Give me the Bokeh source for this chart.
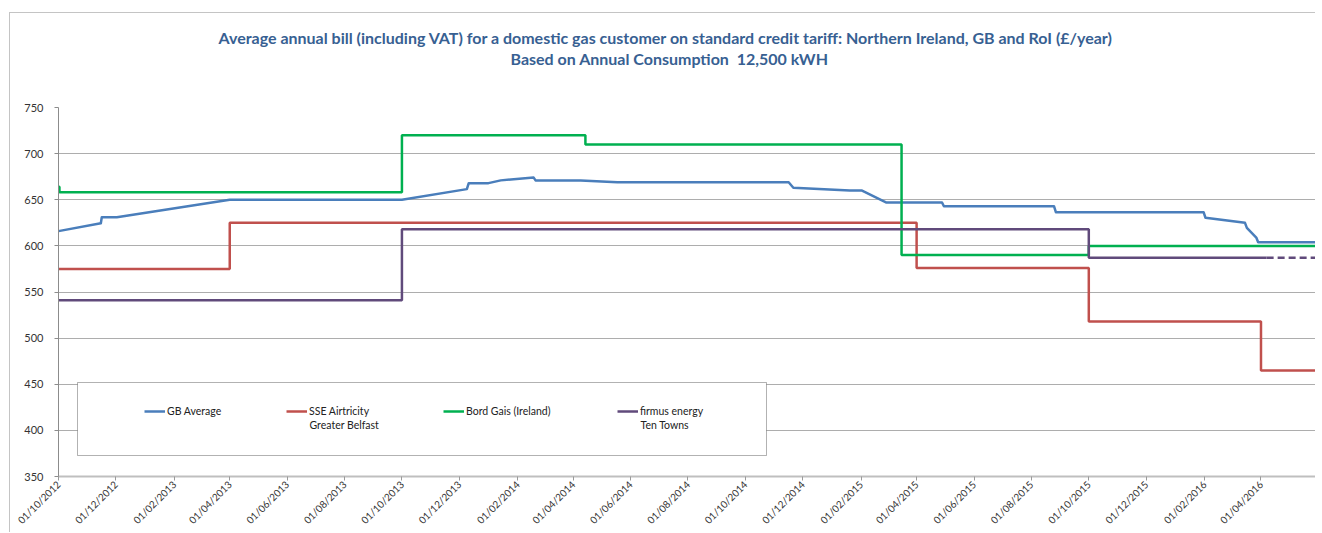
from datetime import datetime
import pandas as pd
from bokeh.plotting import figure
from bokeh.models import (Range1d, FixedTicker, DatetimeTickFormatter, Legend,
                          LegendItem, Label, BoxAnnotation, Title)
from bokeh.embed import file_html
from bokeh.resources import INLINE

# ---------------- data ----------------
title_line1 = ("Average annual bill (including VAT) for a domestic gas customer on standard "
               "credit tariff: Northern Ireland, GB and RoI (£/year)")
title_line2 = "Based on Annual Consumption\u00a0 12,500 kWH"

x_tick_dates = ["2012-10-01", "2012-12-01", "2013-02-01", "2013-04-01", "2013-06-01",
                "2013-08-01", "2013-10-01", "2013-12-01", "2014-02-01", "2014-04-01",
                "2014-06-01", "2014-08-01", "2014-10-01", "2014-12-01", "2015-02-01",
                "2015-04-01", "2015-06-01", "2015-08-01", "2015-10-01", "2015-12-01",
                "2016-02-01", "2016-04-01"]
y_ticks = [350, 400, 450, 500, 550, 600, 650, 700, 750]

series_names = ["GB Average", "SSE Airtricity", "Bord Gais (Ireland)", "firmus energy"]
series_second_lines = ["", "Greater Belfast", "", "Ten Towns"]

gb_dates = ["2012-10-01", "2012-11-15", "2012-11-16", "2012-12-02", "2013-04-01",
            "2013-10-01", "2013-12-09", "2013-12-11", "2014-01-01", "2014-01-14",
            "2014-02-18", "2014-02-20", "2014-04-09", "2014-05-18", "2014-11-16",
            "2014-11-21", "2015-01-20", "2015-02-02", "2015-02-28", "2015-04-28",
            "2015-04-30", "2015-08-25", "2015-08-27", "2016-01-31", "2016-02-02",
            "2016-03-15", "2016-03-17", "2016-03-27", "2016-03-29", "2016-05-31"]
gb_values = [616, 624.5, 631, 631, 650,
             650, 661.5, 668, 668, 671,
             674, 671, 671, 669, 669,
             663, 660, 660, 647, 647,
             643, 643, 636.5, 636.5, 630.5,
             625, 619.5, 609, 604, 604]

sse_dates = ["2012-10-01", "2013-04-01", "2015-04-01", "2015-10-01", "2016-04-01", "2016-05-31"]
sse_values = [575, 625, 576, 518, 465, 465]

bord_dates = ["2012-10-01", "2012-10-02", "2013-10-01", "2014-04-14", "2015-03-16",
              "2015-10-01", "2016-05-31"]
bord_values = [664, 658, 720, 710, 590, 600, 600]

firmus_dates = ["2012-10-01", "2013-10-01", "2015-10-01", "2016-04-07"]
firmus_values = [541, 618, 587, 587]
firmus_proj_dates = ["2016-04-07", "2016-05-31"]
firmus_proj_values = [587, 587]

# ---------------- styling ----------------
FONT = "Lato"
C_BLUE, C_RED, C_GREEN, C_PURPLE = "#4A7EBB", "#C0504D", "#00B050", "#604A7B"
C_TITLE = "#376092"

def dt(lst):
    return pd.to_datetime(lst)

p = figure(x_axis_type="datetime", width=1306, height=520,
           x_range=Range1d(datetime(2012, 10, 1), datetime(2016, 5, 30)),
           y_range=Range1d(350, 750),
           output_backend="svg", toolbar_location=None,
           min_border_left=48, min_border_right=0, min_border_top=94, min_border_bottom=0)
p.margin = (12, 0, 0, 9)
p.styles = {"border-top": "1px solid #C4C4C4", "border-left": "1px solid #C4C4C4"}
p.outline_line_color = None
p.background_fill_color = "white"
p.border_fill_color = "white"

# titles (stacked: closest to the plot first)
def add_title(text, size, standoff, offset=0):
    p.add_layout(Title(text=text, text_font=FONT, text_font_size=size,
                       text_font_style="bold", text_color=C_TITLE,
                       align="left", offset=offset, standoff=standoff), "above")

add_title(" ", "1px", 37)
add_title(title_line2, "16px", 0, 452)
add_title(title_line1, "16px", 0, 160)
add_title(" ", "1px", 8)

# axes
p.xgrid.visible = False
p.ygrid.ticker = FixedTicker(ticks=y_ticks)
p.ygrid.grid_line_color = "#ADADAD"
p.ygrid.grid_line_width = 1

p.yaxis.ticker = FixedTicker(ticks=y_ticks)
p.yaxis.axis_line_color = "#8C8C8C"
p.yaxis.major_tick_line_color = "#8C8C8C"
p.yaxis.major_tick_in = 0
p.yaxis.major_tick_out = 4
p.yaxis.minor_tick_line_color = None
p.yaxis.major_label_standoff = 11
p.yaxis.major_label_text_font = FONT
p.yaxis.major_label_text_font_size = "11px"
p.yaxis.major_label_text_color = "#333333"

x_ticks_ms = [pd.Timestamp(d).timestamp() * 1000 for d in x_tick_dates]
p.xaxis.ticker = FixedTicker(ticks=x_ticks_ms)
fmt = "%d/%m/%Y"
p.xaxis.formatter = DatetimeTickFormatter(days=fmt, months=fmt, years=fmt, hours=fmt,
                                          hourmin=fmt, minutes=fmt, minsec=fmt, seconds=fmt,
                                          milliseconds=fmt, microseconds=fmt)
p.xaxis.major_label_orientation = 0.785398
p.xaxis.axis_line_color = "#BFBFBF"
p.xaxis.axis_line_width = 2
p.xaxis.major_tick_line_color = "#9A9A9A"
p.xaxis.major_tick_in = 0
p.xaxis.major_tick_out = 4
p.xaxis.minor_tick_line_color = None
p.xaxis.major_label_standoff = 2
p.xaxis.major_label_text_font = FONT
p.xaxis.major_label_text_font_size = "10px"
p.xaxis.major_label_text_color = "#333333"

# series
r_gb = p.line(dt(gb_dates), gb_values, line_color=C_BLUE, line_width=2.5, line_join="round")
r_sse = p.step(dt(sse_dates), sse_values, mode="after", line_color=C_RED, line_width=2.5)
r_bord = p.step(dt(bord_dates), bord_values, mode="after", line_color=C_GREEN, line_width=2.5)
r_firmus = p.step(dt(firmus_dates), firmus_values, mode="after", line_color=C_PURPLE, line_width=2.5)
p.line(dt(firmus_proj_dates), firmus_proj_values, line_color=C_PURPLE, line_width=2.5,
       line_dash="7 4")

# legend box
box = BoxAnnotation(left=19, right=708, top=94, bottom=21,
                    left_units="screen", right_units="screen",
                    top_units="screen", bottom_units="screen",
                    fill_color="white", fill_alpha=1.0, line_color="black", line_width=1)
p.add_layout(box)

legend_x = [86, 228, 385, 559]
renderers = [r_gb, r_sse, r_bord, r_firmus]
for name, second, r, lx in zip(series_names, series_second_lines, renderers, legend_x):
    lg = Legend(items=[LegendItem(label=name, renderers=[r])], location=(lx, 58),
                orientation="horizontal", padding=0, margin=0, spacing=0,
                glyph_width=21, glyph_height=14, label_height=14, label_standoff=2,
                border_line_color=None, background_fill_alpha=0.0,
                label_text_font=FONT, label_text_font_size="10.5px",
                label_text_color="#222222")
    p.add_layout(lg)
    if second:
        p.add_layout(Label(x=lx + 23, y=52, x_units="screen", y_units="screen",
                           text=second, text_font=FONT, text_font_size="10.5px",
                           text_color="#222222", text_baseline="middle", text_align="left"))

open("out.html", "w").write(file_html(p, INLINE))
